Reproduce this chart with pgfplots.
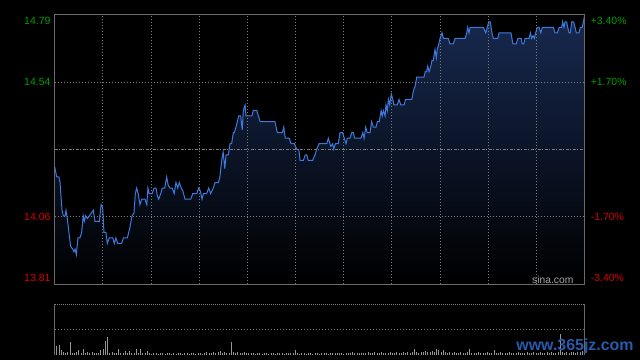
\documentclass[border=0pt]{standalone}
\usepackage{pgfplots}
\pgfplotsset{compat=1.18}
\usepackage{pgfplotstable}
\usetikzlibrary{fadings}
\usepackage{fontspec}
\setmainfont{Liberation Sans}
\definecolor{upg}{RGB}{0,160,0}
\definecolor{dnr}{RGB}{215,0,0}
\definecolor{lineb}{RGB}{62,122,222}
\definecolor{filltop}{RGB}{24,42,80}
\definecolor{bord}{RGB}{105,105,105}
\definecolor{gridc}{RGB}{125,125,125}
\definecolor{volc}{RGB}{150,150,150}
\definecolor{wm}{RGB}{40,90,170}
\newcommand\lbl{\fontsize{10.5}{12}\selectfont}
\tikzfading[name=darkdown, top color=transparent!100, bottom color=transparent!0]

\pgfplotstableread{
m p
0 14.24
1.0 14.20
2.0 14.20
2.5 14.18
3.4 14.08
4.0 14.06
4.8 14.06
5.2 14.08
5.8 14.05
6.7 13.99
7.3 13.95
8.2 13.94
8.8 13.93
9.3 13.94
9.9 13.92
10.6 13.98
11.5 13.98
12.3 14.00
13.0 14.06
13.5 14.04
14.1 14.06
14.9 14.05
15.8 14.06
16.7 14.07
17.6 14.08
18.3 14.04
20.3 14.04
21.1 14.10
21.8 14.09
22.4 14.00
23.3 14.00
23.9 13.96
24.8 13.98
26.4 13.98
27.1 13.96
27.8 13.98
28.6 13.96
30.4 13.96
31.2 13.98
33.0 13.98
34.2 14.02
35.1 14.06
36.0 14.07
36.6 14.14
37.2 14.16
37.9 14.14
38.7 14.10
39.5 14.12
41.0 14.12
41.8 14.10
42.3 14.16
42.9 14.14
44.2 14.14
45.1 14.16
46.0 14.16
46.6 14.13
47.2 14.12
48.1 14.14
48.8 14.16
49.9 14.16
50.8 14.20
51.5 14.17
52.3 14.16
53.3 14.16
54.2 14.14
55.0 14.18
55.8 14.16
56.5 14.18
57.4 14.16
58.1 14.15
59.1 14.12
61.7 14.12
62.6 14.14
64.4 14.14
65.3 14.16
66.0 14.15
66.8 14.12
67.4 14.14
68.9 14.14
69.8 14.16
70.7 14.14
71.9 14.16
72.7 14.18
74.2 14.18
74.9 14.20
75.7 14.26
76.4 14.29
77.1 14.23
77.7 14.28
78.7 14.28
79.5 14.32
80.2 14.32
81.0 14.36
81.4 14.36
82.2 14.38
83.4 14.42
84.3 14.42
85.0 14.37
85.5 14.44
86.3 14.46
86.7 14.42
87.3 14.42
89.4 14.42
90.0 14.44
91.6 14.44
93.1 14.40
99.8 14.40
100.9 14.36
103.2 14.36
103.8 14.38
104.5 14.34
106.3 14.34
107.1 14.32
108.6 14.32
109.7 14.30
110.6 14.30
111.2 14.26
112.7 14.26
113.6 14.28
114.2 14.28
114.9 14.26
116.9 14.26
118.0 14.28
118.7 14.30
119.8 14.32
123.3 14.32
124.0 14.34
125.1 14.31
126.0 14.32
126.4 14.30
127.2 14.32
128.5 14.32
129.3 14.36
130.5 14.36
131.2 14.34
132.0 14.32
132.6 14.34
133.8 14.34
134.6 14.36
135.3 14.36
135.9 14.34
138.8 14.34
139.6 14.36
140.2 14.34
140.9 14.38
141.6 14.36
142.9 14.36
143.6 14.40
144.4 14.38
145.6 14.38
146.2 14.40
147.1 14.40
147.9 14.44
148.4 14.42
148.9 14.44
149.7 14.42
150.1 14.46
150.7 14.44
151.2 14.48
151.8 14.46
152.5 14.50
153.2 14.48
153.7 14.46
155.2 14.46
156.0 14.48
156.8 14.46
158.3 14.46
159.0 14.48
161.8 14.48
162.5 14.51
163.4 14.53
164.0 14.56
167.3 14.56
167.9 14.58
168.5 14.58
169.0 14.60
169.6 14.58
170.4 14.60
170.9 14.62
171.5 14.62
172.3 14.66
172.9 14.63
173.3 14.66
174.0 14.68
174.6 14.70
175.5 14.72
176.1 14.70
178.3 14.70
179.1 14.68
180.6 14.68
181.4 14.70
185.9 14.70
186.7 14.72
187.1 14.74
187.7 14.72
188.2 14.74
194.2 14.74
195.3 14.72
196.0 14.74
196.6 14.76
197.3 14.76
198.1 14.72
198.7 14.70
200.7 14.70
201.3 14.72
206.7 14.72
207.6 14.68
209.1 14.68
209.8 14.70
211.3 14.70
211.8 14.68
212.5 14.68
213.1 14.70
214.9 14.70
215.5 14.72
216.1 14.70
216.7 14.71
217.3 14.70
217.9 14.72
218.6 14.74
219.4 14.74
220.2 14.72
220.9 14.74
225.9 14.74
226.6 14.72
227.7 14.72
228.5 14.74
229.7 14.74
230.1 14.76
230.7 14.74
231.2 14.76
231.9 14.76
232.4 14.74
233.0 14.72
233.6 14.72
234.2 14.76
235.1 14.76
235.7 14.74
236.3 14.72
237.5 14.72
238.1 14.74
239.0 14.74
240.0 14.78
}\price

\pgfplotstableread[row sep=\\]{
m v\\
0 12\\1 9\\2 10\\3 5\\4 3.3\\5 2\\6 3\\7 13.3\\8 2.5\\9 2\\
10 3\\11 5\\12 2\\13 6\\14 2.5\\15 3.3\\16 2\\17 3.3\\18 2\\19 2.5\\
20 2\\21 5\\22 6\\23 14\\24 18.3\\25 2.5\\26 3.3\\27 2\\28 2\\29 5.7\\
30 2\\31 2.5\\32 4.3\\33 2\\34 4.3\\35 2\\36 2.5\\37 5.7\\38 2\\39 5.7\\
40 2\\41 2.5\\42 4\\43 2\\44 1.5\\45 2.5\\46 2\\47 1.5\\48 2\\49 2.5\\
50 1.5\\51 2\\52 2.5\\53 1.5\\54 2\\55 1.5\\56 2.5\\57 2\\58 1.5\\59 2\\
60 2\\61 1.5\\62 2.5\\63 2\\64 1.5\\65 2\\66 2.5\\67 1.5\\68 2\\69 3\\
70 2\\71 2.5\\72 3\\73 2\\74 3.3\\75 4.3\\76 2.5\\77 3\\78 2\\79 2.5\\
80 13.3\\81 3\\82 2.5\\83 3\\84 2\\85 2.5\\86 3\\87 2\\88 2.5\\89 2\\
90 2\\91 1.5\\92 2\\93 2.5\\94 1.5\\95 2\\96 2\\97 1.5\\98 2.5\\99 2\\
100 1.5\\101 2\\102 2.5\\103 2\\104 1.5\\105 2\\106 2.5\\107 2\\108 2\\109 5\\
110 2\\111 1.5\\112 2\\113 2.5\\114 1.5\\115 2\\116 2\\117 1.5\\118 2\\119 2.5\\
120 1.5\\121 2\\122 2.5\\123 2\\124 1.5\\125 2\\126 2.5\\127 2\\128 2\\129 2.5\\
130 2\\131 1.5\\132 2.5\\133 2\\134 2\\135 3\\136 2\\137 2.5\\138 2\\139 2\\
140 2.5\\141 2\\142 3\\143 2\\144 2.5\\145 3\\146 2\\147 2.5\\148 3\\149 2\\
150 2.5\\151 2\\152 3.3\\153 2\\154 2.5\\155 3\\156 2\\157 2.5\\158 3\\159 2.5\\
160 3\\161 2.5\\162 3\\163 5.7\\164 3\\165 2.5\\166 3.5\\167 3\\168 4\\169 3\\
170 3.5\\171 4.3\\172 3\\173 5.7\\174 5\\175 3\\176 5\\177 3\\178 2.5\\179 3\\
180 2.5\\181 3\\182 2\\183 2.5\\184 3\\185 2\\186 2.5\\187 3\\188 5.7\\189 2.5\\
190 2\\191 2.5\\192 3\\193 2\\194 2.5\\195 2\\196 3\\197 2.5\\198 2\\199 5\\
200 2.5\\201 2\\202 3\\203 2\\204 2.5\\205 2\\206 3\\207 2.5\\208 2\\209 2.5\\
210 3\\211 2\\212 2.5\\213 2\\214 3\\215 2.5\\216 2\\217 3\\218 2.5\\219 2\\
220 3\\221 2.5\\222 2\\223 3\\224 2.5\\225 3\\226 2\\227 2.5\\228 3\\229 21\\
230 3\\231 2.5\\232 3\\233 2\\234 3.5\\235 3\\236 2.5\\237 3\\238 3.5\\239 4\\
240 5\\
}\vol

\begin{document}
\begin{tikzpicture}
\path[use as bounding box, fill=black] (0bp,0bp) rectangle (640bp,360bp);
\begin{axis}[
  at={(54.5bp,76bp)}, anchor=south west, scale only axis,
  width=530bp, height=269.5bp,
  xmin=0, xmax=240, ymin=13.8138, ymax=14.7862,
  axis on top,
  axis line style={draw=bord, line width=0.8bp},
  xtick={21.818,43.636,65.455,87.273,109.091,130.909,152.727,174.545,196.364,218.182},
  ytick={14.0569,14.5431},
  xticklabels={}, yticklabels={},
  major tick length=0,
  grid=major,
  major grid style={draw=gridc, line width=0.6bp, dash pattern=on 1bp off 2bp},
]
\addplot[fill=filltop, draw=none, forget plot] table[x=m,y=p]{\price} \closedcycle;
\fill[black, path fading=darkdown] (axis cs:0,13.8138) rectangle (axis cs:240,14.7862);
\addplot[lineb, line width=1bp, mark=none] table[x=m,y=p]{\price};
\draw[draw=gridc, line width=0.7bp, dash pattern=on 3bp off 1.5bp on 1bp off 1.5bp] (axis cs:0,14.30) -- (axis cs:240,14.30);
\end{axis}
\begin{axis}[
  at={(54.5bp,5bp)}, anchor=south west, scale only axis,
  width=530bp, height=51bp,
  xmin=0, xmax=240, ymin=0, ymax=51,
  axis line style={draw=none}, ticks=none, clip=false,
]
\addplot[ycomb, draw=volc, line width=0.8bp, mark=none] table[x=m,y=v]{\vol};
\draw[draw=gridc, line width=0.8bp, dash pattern=on 1bp off 1bp] (axis cs:0,51) -- (axis cs:240,51);
\draw[draw=gridc, line width=0.6bp, dash pattern=on 1bp off 2bp] (axis cs:0,25.5) -- (axis cs:240,25.5);
\draw[draw=bord, line width=0.8bp] (axis cs:0,0) -- (axis cs:0,51);
\draw[draw=bord, line width=0.8bp] (axis cs:240,0) -- (axis cs:240,51);
\end{axis}
\node[anchor=east, inner sep=0, text=upg, font=\lbl] at (50.6bp,339.5bp) {14.79};
\node[anchor=east, inner sep=0, text=upg, font=\lbl] at (50.6bp,278.3bp) {14.54};
\node[anchor=east, inner sep=0, text=dnr, font=\lbl] at (50.6bp,143bp) {14.06};
\node[anchor=east, inner sep=0, text=dnr, font=\lbl] at (50.6bp,82bp) {13.81};
\node[anchor=west, inner sep=0, text=upg, font=\lbl] at (590.6bp,339.5bp) {+3.40\%};
\node[anchor=west, inner sep=0, text=upg, font=\lbl] at (590.6bp,278.3bp) {+1.70\%};
\node[anchor=west, inner sep=0, text=dnr, font=\lbl] at (590.6bp,143bp) {-1.70\%};
\node[anchor=west, inner sep=0, text=dnr, font=\lbl] at (590.6bp,82bp) {-3.40\%};
\node[anchor=east, inner sep=0, text=volc!85!white, font=\fontsize{10.3}{12}\selectfont] at (573.5bp,80.3bp) {sina.com};
\node[inner sep=0, text=wm, font=\fontsize{16}{18}\selectfont\bfseries] at (575bp,14bp) {www.365jz.com};
\end{tikzpicture}
\end{document}
